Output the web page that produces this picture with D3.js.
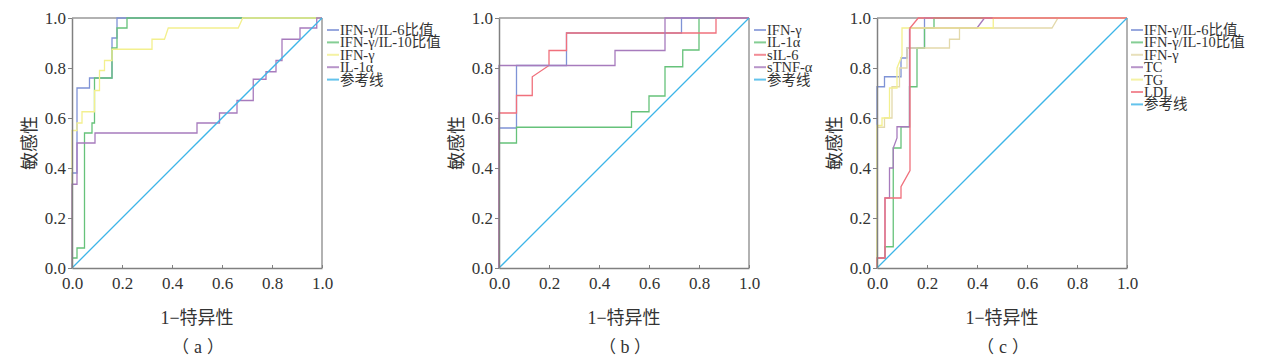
<!DOCTYPE html>
<html><head><meta charset="utf-8">
<script src="https://cdn.jsdelivr.net/npm/d3@7/dist/d3.min.js"></script>
<style>body{margin:0;background:#fff} text{text-spacing-trim:space-all}</style>
</head><body>
<svg id="chart" width="1268" height="361"></svg>
<script>
// ---------- data ----------
const tickValues = [0, 0.2, 0.4, 0.6, 0.8, 1.0];
const tickLabels = ["0.0", "0.2", "0.4", "0.6", "0.8", "1.0"];
const xTitle = "1−特异性";
const yTitle = "敏感性";
const captionLetters = ["a", "b", "c"];

// panel (a)
const a_names = ["IFN-γ/IL-6比值", "IFN-γ/IL-10比值", "IFN-γ", "IL-1α", "参考线"];
const a_ratio6 = [[0,0],[0,0.38],[0.02,0.38],[0.02,0.72],[0.07,0.72],[0.07,0.76],[0.16,0.76],[0.16,0.92],[0.18,0.92],[0.18,1],[1,1]];
const a_ratio10 = [[0,0],[0,0.04],[0.02,0.04],[0.02,0.08],[0.05,0.08],[0.05,0.54],[0.08,0.54],[0.08,0.58],[0.09,0.58],[0.09,0.76],[0.16,0.76],[0.16,0.88],[0.18,0.88],[0.18,0.96],[0.22,0.96],[0.22,1],[1,1]];
const a_ifng = [[0,0],[0,0.55],[0.02,0.55],[0.02,0.58],[0.04,0.58],[0.04,0.625],[0.09,0.625],[0.09,0.71],[0.11,0.71],[0.11,0.79],[0.13,0.79],[0.13,0.83],[0.16,0.83],[0.16,0.875],[0.32,0.875],[0.32,0.915],[0.37,0.915],[0.385,0.96],[0.665,0.96],[0.683,1],[1,1]];
const a_il1a = [[0,0],[0,0.335],[0.02,0.335],[0.02,0.5],[0.092,0.5],[0.092,0.54],[0.5,0.54],[0.5,0.58],[0.59,0.58],[0.59,0.62],[0.66,0.62],[0.66,0.67],[0.725,0.67],[0.725,0.755],[0.776,0.755],[0.776,0.785],[0.816,0.785],[0.816,0.83],[0.84,0.83],[0.84,0.915],[0.912,0.915],[0.912,0.96],[0.979,0.96],[0.979,1],[1,1]];

// panel (b)
const b_names = ["IFN-γ", "IL-1α", "sIL-6", "sTNF-α", "参考线"];
const b_ifng = [[0,0],[0,0.56],[0.07,0.56],[0.07,0.81],[0.27,0.81],[0.27,0.94],[0.73,0.94],[0.73,1],[1,1]];
const b_il1a = [[0,0],[0,0.5],[0.07,0.5],[0.07,0.563],[0.53,0.563],[0.53,0.625],[0.6,0.625],[0.6,0.688],[0.664,0.688],[0.664,0.805],[0.735,0.805],[0.735,0.872],[0.8,0.872],[0.8,1],[1,1]];
const b_sil6 = [[0,0],[0,0.62],[0.07,0.62],[0.07,0.69],[0.133,0.69],[0.133,0.765],[0.2,0.81],[0.2,0.87],[0.27,0.87],[0.27,0.94],[0.868,0.94],[0.868,1],[1,1]];
const b_stnfa = [[0,0],[0,0.81],[0.464,0.81],[0.464,0.87],[0.664,0.87],[0.664,1],[1,1]];

// panel (c)
const c_names = ["IFN-γ/IL-6比值", "IFN-γ/IL-10比值", "IFN-γ", "TC", "TG", "LDL", "参考线"];
const c_ratio6 = [[0,0],[0,0.725],[0.03,0.725],[0.03,0.765],[0.096,0.765],[0.096,0.84],[0.12,0.84],[0.12,0.88],[0.19,0.88],[0.19,1],[1,1]];
const c_ratio10 = [[0,0],[0,0.04],[0.032,0.04],[0.032,0.085],[0.065,0.085],[0.065,0.48],[0.096,0.48],[0.096,0.565],[0.13,0.565],[0.13,0.725],[0.16,0.725],[0.16,0.88],[0.19,0.88],[0.19,0.96],[0.228,0.96],[0.228,1],[1,1]];
const c_ifng = [[0,0],[0,0.563],[0.03,0.563],[0.03,0.6],[0.06,0.6],[0.06,0.725],[0.09,0.725],[0.09,0.8],[0.12,0.8],[0.12,0.88],[0.29,0.88],[0.29,0.915],[0.33,0.915],[0.33,0.96],[0.7,0.96],[0.724,1],[1,1]];
const c_tc = [[0,0],[0,0.04],[0.032,0.04],[0.032,0.28],[0.05,0.28],[0.05,0.4],[0.065,0.4],[0.065,0.48],[0.08,0.52],[0.08,0.565],[0.13,0.565],[0.13,0.96],[0.4,0.96],[0.43,1],[1,1]];
const c_tg = [[0,0],[0,0.57],[0.02,0.57],[0.02,0.6],[0.05,0.6],[0.05,0.72],[0.08,0.72],[0.08,0.8],[0.1,0.85],[0.1,0.96],[0.465,0.96],[0.465,1],[1,1]];
const c_ldl = [[0,0],[0,0.04],[0.032,0.04],[0.032,0.28],[0.096,0.28],[0.096,0.325],[0.132,0.39],[0.132,0.96],[0.165,1],[1,1]];

const refLine = [[0,0],[1,1]];

// ---------- styles ----------
const COL = {
  blue: "#7f93d6", green: "#66c27a", yellow: "#f3f08e", purple: "#a77bbd",
  cyan: "#3db5e8", red: "#f0707c", tan: "#e3d9ab"
};
const panels = [
  { x0: 72, legendX: 327, names: a_names,
    series: [[a_ratio6, COL.blue], [a_ratio10, COL.green], [a_ifng, COL.yellow], [a_il1a, COL.purple], [refLine, COL.cyan]] },
  { x0: 499, legendX: 754, names: b_names,
    series: [[b_ifng, COL.blue], [b_il1a, COL.green], [b_sil6, COL.red], [b_stnfa, COL.purple], [refLine, COL.cyan]] },
  { x0: 877, legendX: 1131, names: c_names,
    series: [[c_ratio6, COL.blue], [c_ratio10, COL.green], [c_ifng, COL.tan], [c_tc, COL.purple], [c_tg, COL.yellow], [c_ldl, COL.red], [refLine, COL.cyan]] }
];

const W = 250, H = 250, TOP = 18;
const serif = "'Liberation Serif','Times New Roman','Noto Sans CJK SC',serif";
const cjk = "'Noto Sans CJK SC','Noto Sans CJK JP',sans-serif";
const svg = d3.select("#chart");

panels.forEach((p, i) => {
  const x = d3.scaleLinear().domain([0, 1]).range([p.x0, p.x0 + W]);
  const y = d3.scaleLinear().domain([0, 1]).range([TOP + H, TOP]);
  const g = svg.append("g");

  // frame top/right
  g.append("line").attr("x1", p.x0).attr("x2", p.x0 + W).attr("y1", TOP).attr("y2", TOP)
    .attr("stroke", "#999").attr("stroke-width", 1.5);
  g.append("line").attr("x1", p.x0 + W).attr("x2", p.x0 + W).attr("y1", TOP).attr("y2", TOP + H)
    .attr("stroke", "#999").attr("stroke-width", 1.5);

  // curves
  const line = d3.line().x(d => x(d[0])).y(d => y(d[1]));
  p.series.forEach(([data, color]) => {
    g.append("path").attr("d", line(data)).attr("fill", "none")
      .attr("stroke", color).attr("stroke-width", 1.3);
  });

  // axes
  const xa = g.append("g").attr("transform", `translate(0,${TOP + H})`)
    .call(d3.axisBottom(x).tickValues(tickValues).tickFormat((d, k) => tickLabels[k]).tickSizeInner(-3).tickSizeOuter(0).tickPadding(9));
  const ya = g.append("g").attr("transform", `translate(${p.x0},0)`)
    .call(d3.axisLeft(y).tickValues(tickValues).tickFormat((d, k) => tickLabels[k]).tickSizeInner(4).tickSizeOuter(0).tickPadding(2));
  [xa, ya].forEach(a => {
    a.select(".domain").attr("stroke", "#808080").attr("stroke-width", 1.5);
    a.selectAll(".tick line").attr("stroke", "#808080");
    a.selectAll(".tick text").attr("font-family", serif).attr("font-size", 17).attr("fill", "#333");
  });

  // titles
  g.append("text").attr("x", p.x0 + W / 2).attr("y", 324).attr("text-anchor", "middle")
    .attr("font-family", serif).attr("font-size", 18).attr("fill", "#333").text(xTitle);
  g.append("text").attr("transform", `translate(${p.x0 - 36},${TOP + H / 2}) rotate(-90)`)
    .attr("text-anchor", "middle").attr("font-family", serif).attr("font-size", 18).attr("fill", "#333").text(yTitle);
  // caption: full-width brackets placed individually
  const cx = p.x0 + W / 2;
  g.append("text").attr("x", cx - 25).attr("y", 353).attr("text-anchor", "start")
    .attr("font-family", cjk).attr("font-size", 17).attr("fill", "#333").text("（");
  g.append("text").attr("x", cx + 1).attr("y", 353).attr("text-anchor", "middle")
    .attr("font-family", serif).attr("font-size", 18).attr("fill", "#333").text(captionLetters[i]);
  g.append("text").attr("x", cx + 10).attr("y", 353).attr("text-anchor", "start")
    .attr("font-family", cjk).attr("font-size", 17).attr("fill", "#333").text("）");

  // legend
  p.names.forEach((n, k) => {
    const yy = 30 + k * 12.4;
    g.append("line").attr("x1", p.legendX).attr("x2", p.legendX + 12).attr("y1", yy).attr("y2", yy)
      .attr("stroke", p.series[k][1]).attr("stroke-width", 2).attr("opacity", 0.8);
    g.append("text").attr("x", p.legendX + 13).attr("y", yy + 5).attr("font-family", serif)
      .attr("font-size", 14.5).attr("fill", "#333").text(n);
  });
});
</script>
</body></html>
